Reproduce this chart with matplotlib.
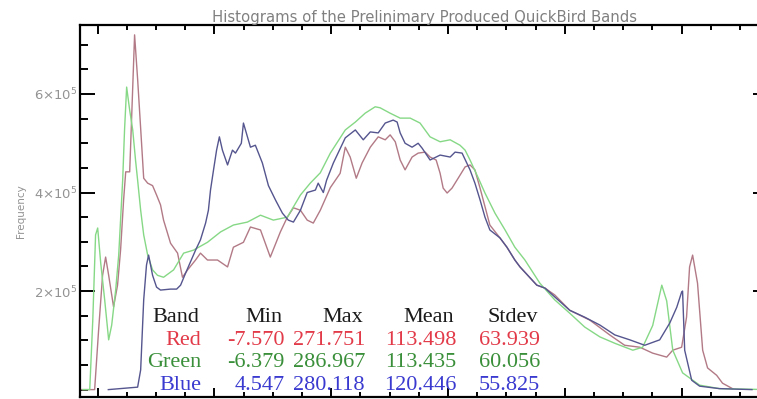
import matplotlib.pyplot as plt
from matplotlib.ticker import MultipleLocator, FixedLocator, FixedFormatter

# digital number (x) and frequency in units of 1e5 (y)
red_dn = [-7.57, -1.3, 0.4, 2.1, 3.4, 4.7, 6.8, 8.5, 9.8, 11.1, 12.0, 13.7, 14.5, 15.8, 17.1,
          18.4, 19.7, 21.4, 23.5, 25.2, 26.9, 28.2, 31.2, 34.2, 36.3, 38.5, 41.9, 44.0, 47.0,
          51.3, 55.6, 58.1, 62.4, 65.4, 69.7, 73.9, 78.2, 81.2, 83.8, 86.8, 89.7, 92.3, 95.3,
          99.6, 103.8, 106.0, 108.1, 110.7, 113.2, 116.7, 120.1, 123.1, 125.2, 127.4, 129.5,
          131.6, 134.6, 137.2, 140.2, 142.3, 144.9, 146.6, 147.9, 149.6, 151.7, 155.1, 157.3,
          159.4, 161.5, 163.7, 167.9, 172.2, 175.2, 178.6, 180.8, 188.0, 191.5, 195.7, 202.1,
          210.7, 219.2, 225.6, 232.1, 237.6, 243.6, 246.2, 250.0, 252.1, 253.4, 254.7, 256.8,
          259.0, 261.1, 265.0, 267.5, 271.75]
red_freq = [0.0, 0.0, 1.21, 2.32, 2.69, 2.32, 1.68, 2.12, 2.83, 3.85, 4.42, 4.42, 5.47, 7.20, 6.30,
            5.30, 4.29, 4.19, 4.14, 3.95, 3.75, 3.44, 2.97, 2.77, 2.28, 2.43, 2.63, 2.77, 2.63,
            2.63, 2.49, 2.89, 2.99, 3.30, 3.24, 2.69, 3.20, 3.50, 3.69, 3.64, 3.44, 3.38, 3.64,
            4.10, 4.39, 4.92, 4.72, 4.29, 4.60, 4.92, 5.13, 5.07, 5.17, 5.03, 4.66,
            4.46, 4.72, 4.80, 4.82, 4.72, 4.66, 4.39, 4.09, 3.99, 4.09, 4.35, 4.52,
            4.56, 4.46, 4.09, 3.34, 3.08, 2.89, 2.63, 2.49, 2.12, 2.06, 1.92, 1.61,
            1.41, 1.11, 0.90, 0.86, 0.74, 0.66, 0.80, 0.86, 1.47, 2.49, 2.73, 2.16,
            0.80, 0.44, 0.29, 0.13, 0.02]

green_dn = [-6.38, -3.4, -2.1, -0.9, 0.0, 1.3, 3.0, 4.7, 6.0, 7.7, 9.0, 10.7, 11.5, 12.4, 13.7,
            15.0, 16.2, 17.1, 18.4, 19.7, 21.4, 23.5, 25.6, 28.2, 32.5, 36.8, 41.0, 47.0, 52.6,
            58.1, 64.1, 69.7, 75.2, 81.2, 86.8, 91.0, 95.3, 99.6, 106.0, 110.3, 114.5, 118.8,
            120.9, 125.2, 129.5, 133.8, 138.0, 142.3, 146.6, 150.9, 155.1, 157.3, 159.4, 162.8,
            165.8, 170.1, 174.4, 178.6, 182.9, 189.3, 195.7, 202.1, 208.5, 215.0, 221.4, 229.1,
            233.3, 237.6, 241.5, 243.6, 246.2, 250.4, 257.7, 266.2, 286.97]
green_freq = [0.0, 0.0, 1.41, 3.14, 3.28, 2.57, 1.82, 1.01, 1.31, 2.02, 2.73, 4.25, 5.27, 6.14, 5.67,
              5.27, 4.66, 4.25, 3.64, 3.14, 2.73, 2.43, 2.32, 2.28, 2.43, 2.77, 2.83, 2.99, 3.20,
              3.34, 3.40, 3.54, 3.44, 3.50, 3.95, 4.19, 4.40, 4.80, 5.27, 5.43, 5.61, 5.74,
              5.72, 5.61, 5.51, 5.51, 5.41, 5.13, 5.03, 5.07, 4.96, 4.86, 4.66, 4.31,
              3.99, 3.58, 3.24, 2.89, 2.63, 2.16, 1.82, 1.55, 1.27, 1.07, 0.94, 0.80,
              0.86, 1.30, 2.12, 1.80, 0.80, 0.34, 0.09, 0.02, 0.0]

blue_dn = [4.55, 17.1, 18.4, 19.7, 20.9, 21.8, 23.5, 25.2, 26.9, 31.2, 33.8, 35.5, 37.6, 39.7,
           41.9, 44.0, 46.2, 47.4, 48.3, 49.6, 50.9, 52.1, 53.4, 55.6, 57.7, 59.0, 61.5, 62.4,
           65.4, 67.5, 70.5, 73.1, 76.1, 79.1, 81.6, 83.8, 86.8, 89.7, 93.2, 94.4, 96.6, 98.0,
           100.9, 106.0, 110.3, 113.7, 116.7, 120.1, 123.1, 126.5, 128.2, 129.5, 131.6, 134.6,
           137.2, 138.9, 142.3, 146.6, 150.9, 153.0, 156.0, 159.4, 161.5, 163.7, 165.8, 167.9,
           172.2, 175.2, 178.6, 180.8, 188.0, 191.5, 195.7, 202.1, 208.5, 215.0, 221.4, 227.8,
           234.2, 240.6, 244.9, 247.9, 250.0, 250.4, 251.3, 254.3, 257.7, 266.2, 280.12]
blue_freq = [0.0, 0.05, 0.40, 1.82, 2.53, 2.73, 2.32, 2.08, 2.02, 2.04, 2.04, 2.12, 2.36, 2.59,
             2.83, 3.04, 3.38, 3.64, 4.05, 4.46, 4.86, 5.13, 4.86, 4.56, 4.86, 4.80, 5.00, 5.41,
             4.92, 4.96, 4.60, 4.14, 3.85, 3.58, 3.44, 3.40, 3.64, 4.00, 4.05, 4.19, 4.00, 4.25,
             4.60, 5.11, 5.27, 5.07, 5.23, 5.21, 5.41, 5.47, 5.43, 5.21, 5.00, 4.92,
             5.00, 4.90, 4.66, 4.76, 4.72, 4.82, 4.80, 4.46, 4.19, 3.85, 3.50, 3.24,
             3.08, 2.89, 2.63, 2.49, 2.12, 2.06, 1.88, 1.61, 1.47, 1.31, 1.11, 1.01,
             0.90, 1.01, 1.35, 1.67, 1.98, 2.00, 0.80, 0.19, 0.07, 0.02, 0.0]

# statistics table
table_header = ['Band', 'Min', 'Max', 'Mean', 'Stdev']
band_names = ['Red', 'Green', 'Blue']
band_min = [-7.570, -6.379, 4.547]
band_max = [271.751, 286.967, 280.118]
band_mean = [113.498, 113.435, 120.446]
band_stdev = [63.939, 60.056, 55.825]

line_colors = ['#b27a86', '#86d886', '#55558f']
text_colors = ['#e23a48', '#3a8f3a', '#3a3ad0']

W, H = 757, 399
fig = plt.figure(figsize=(W / 100, H / 100), dpi=100)
# plot box runs a little past the right edge of the picture, as in the source
ax = fig.add_axes([80 / W, 2 / H, 688 / W, 372 / H])

for dn, freq, c in zip([red_dn, green_dn, blue_dn], [red_freq, green_freq, blue_freq], line_colors):
    ax.plot(dn, freq, color=c, lw=1.0)

ax.set_xlim(-7.57, 286.97)
ax.set_ylim(-0.15, 7.40)

ax.xaxis.set_major_locator(MultipleLocator(50))
ax.xaxis.set_minor_locator(MultipleLocator(12.5))
ax.xaxis.set_major_formatter(FixedFormatter([]))
ax.yaxis.set_major_locator(FixedLocator([2, 4, 6]))
ax.yaxis.set_major_formatter(FixedFormatter(['2×10$^5$', '4×10$^5$', '6×10$^5$']))
ax.yaxis.set_minor_locator(MultipleLocator(0.5))

ax.tick_params(axis='x', which='both', direction='in', top=True, bottom=True,
               labelbottom=False, width=1.4, color='black')
ax.tick_params(axis='x', which='major', length=6.5)
ax.tick_params(axis='x', which='minor', length=3.5)
ax.tick_params(axis='y', which='both', direction='in', left=True, right=True,
               width=1.4, labelsize=9.5, labelcolor='#939393', pad=1.5)
ax.tick_params(axis='y', which='major', length=10.5)
ax.tick_params(axis='y', which='minor', length=5.5)
for s in ax.spines.values():
    s.set_linewidth(1.6)

ax.set_title('Histograms of the Prelinimary Produced QuickBird Bands',
             fontsize=10.7, color='#808080', pad=2)
ax.set_ylabel('Frequency', fontsize=7.5, color='#939393')
ax.yaxis.set_label_coords(-0.079, 0.50)

# table text, right aligned columns
col_right = [201, 285, 365, 456, 540]
row_base = [322, 345, 367, 390]
serif = 'Liberation Serif'
for j, s in enumerate(table_header):
    fig.text((col_right[j] - 2) / W, 1 - row_base[0] / H, s, ha='right', va='baseline',
             family=serif, fontsize=16, color='#1a1a1a')
for i, name in enumerate(band_names):
    vals = [name, '%.3f' % band_min[i], '%.3f' % band_max[i],
            '%.3f' % band_mean[i], '%.3f' % band_stdev[i]]
    for j, s in enumerate(vals):
        fig.text(col_right[j] / W, 1 - row_base[i + 1] / H, s, ha='right', va='baseline',
                 family=serif, fontsize=16, color=text_colors[i])

fig.savefig('out.png', dpi=100)
